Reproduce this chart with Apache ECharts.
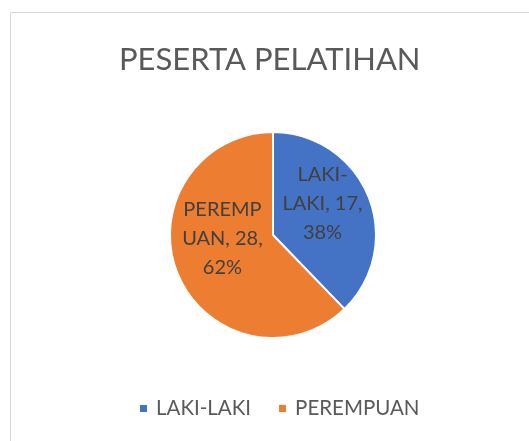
<!DOCTYPE html>
<html>
<head>
<meta charset="utf-8">
<script src="https://cdn.jsdelivr.net/npm/echarts@6/dist/echarts.min.js"></script>
<style>
  html, body { margin: 0; padding: 0; background: #fff; }
  #chart { width: 529px; height: 441px; }
</style>
</head>
<body>
<div id="chart"></div>
<script>
const categories = ['LAKI-LAKI', 'PEREMPUAN']
const values = [17, 28]
// where Excel wrapped the category name inside the slice
const wrapAt = [5, 6]

const chart = echarts.init(document.getElementById('chart'))

const pieData = categories.map((name, i) => ({ name, value: values[i] }))

chart.setOption({
  animation: false,
  color: ['#4472C4', '#ED7D31'],
  textStyle: { fontFamily: 'Lato' },
  graphic: [{
    type: 'rect',
    shape: { x: 10.5, y: 12.5, width: 700, height: 700 },
    style: { fill: 'none', stroke: '#d9d9d9', lineWidth: 1 }
  }],
  title: {
    text: 'PESERTA PELATIHAN',
    left: 114,
    top: 39,
    textStyle: { fontFamily: 'Lato', fontSize: 31, fontWeight: 'normal', color: '#595959' }
  },
  legend: {
    bottom: 17,
    left: 133,
    icon: 'rect',
    itemWidth: 9,
    itemHeight: 9,
    itemGap: 26,
    textStyle: { fontFamily: 'Lato', fontSize: 20.5, color: '#595959', padding: [0, 0, 0, 3] }
  },
  series: [{
    type: 'pie',
    center: [273, 235],
    radius: 103,
    startAngle: 90,
    clockwise: true,
    percentPrecision: 0,
    itemStyle: { borderColor: '#fff', borderWidth: 2 },
    label: {
      position: 'inside',
      fontFamily: 'Lato',
      fontSize: 20,
      lineHeight: 29,
      color: '#404040',
      formatter: p => {
        const n = p.name
        const k = wrapAt[p.dataIndex]
        return n.slice(0, k) + '\n' + n.slice(k) + ', ' + p.value + ',\n' + p.percent + '%'
      }
    },
    labelLine: { show: false },
    data: pieData.map((d, i) => ({
      ...d,
      label: { offset: i === 0 ? [-1, -11] : [0, -17] }
    }))
  }]
})
</script>
</body>
</html>
